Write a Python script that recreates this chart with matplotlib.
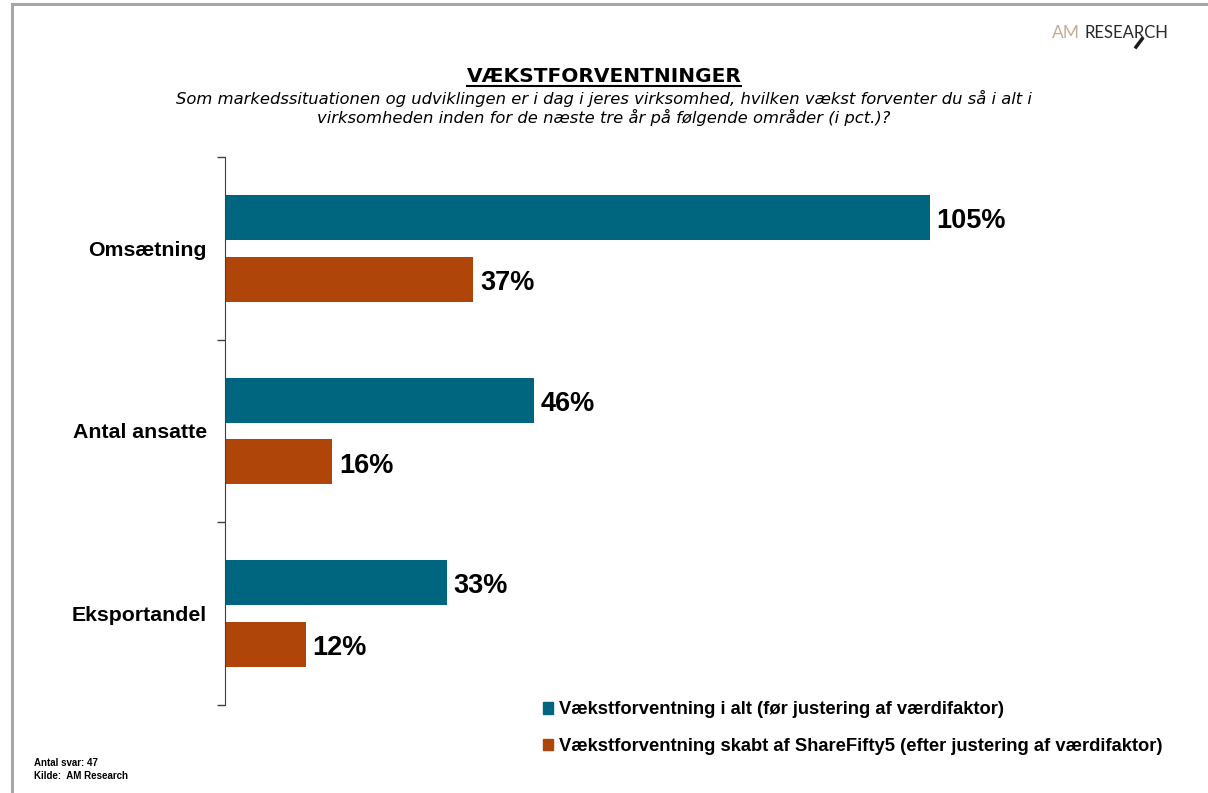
import matplotlib.pyplot as plt
from matplotlib.patches import Patch
from matplotlib.lines import Line2D

kategorier = ["Omsætning", "Antal ansatte", "Eksportandel"]
foer_justering = [105, 46, 33]
efter_justering = [37, 16, 12]
serie_navne = ["Vækstforventning i alt (før justering af værdifaktor)",
               "Vækstforventning skabt af ShareFifty5 (efter justering af værdifaktor)"]

teal = "#006680"
orange = "#AF4509"

fig = plt.figure(figsize=(12.08, 7.93), dpi=100)
W, H = 1208, 793

# graa ramme (venstre og top)
fig.add_artist(Line2D([11.5 / W, 11.5 / W], [0, 1 - 3.5 / H], color="#a6a6a6", lw=2.2))
fig.add_artist(Line2D([11.5 / W, 1], [1 - 3.5 / H, 1 - 3.5 / H], color="#a6a6a6", lw=2.2))

ax = fig.add_axes([225 / W, 1 - 705 / H, 940 / W, 548 / H])

pos = list(range(len(kategorier)))
h = 0.247
off = 0.169
ax.barh([p - off for p in pos], foer_justering, height=h, color=teal)
ax.barh([p + off for p in pos], efter_justering, height=h, color=orange)

for p, v in zip(pos, foer_justering):
    ax.text(v + 1.0, p - off + 0.02, f"{v}%", va="center", ha="left", fontsize=19.5,
            fontweight="bold", family="Liberation Sans")
for p, v in zip(pos, efter_justering):
    ax.text(v + 1.0, p + off + 0.02, f"{v}%", va="center", ha="left", fontsize=19.5,
            fontweight="bold", family="Liberation Sans")

ax.set_xlim(0, 940 / 6.714)
ax.set_ylim(2.5, -0.5)
ax.set_yticks(pos)
ax.set_yticklabels(kategorier, fontsize=15.3, fontweight="bold", family="Liberation Sans")
ax.tick_params(axis="y", which="major", length=0, pad=13)
ax.set_yticks([-0.5, 0.5, 1.5, 2.5], minor=True)
ax.tick_params(axis="y", which="minor", length=6, color="#404040", width=1)
ax.set_xticks([])
for s in ["top", "right", "bottom"]:
    ax.spines[s].set_visible(False)
ax.spines["left"].set_color("#404040")

handles = [Patch(color=teal), Patch(color=orange)]
fig.legend(handles, serie_navne, loc="upper left", bbox_to_anchor=(526 / W, 1 - 685 / H),
           frameon=False, handlelength=0.58, handleheight=0.58, handletextpad=0.3,
           labelspacing=1.05, prop={"family": "Liberation Sans", "weight": "bold", "size": 13.2})

# titel
t = fig.text(0.5, 1 - 77 / H, "VÆKSTFORVENTNINGER", ha="center", va="center",
             fontsize=14.5, fontweight="bold", family="DejaVu Sans")
fig.text(0.5, 1 - 108 / H,
         "Som markedssituationen og udviklingen er i dag i jeres virksomhed, hvilken vækst forventer du så i alt i\n"
         "virksomheden inden for de næste tre år på følgende områder (i pct.)?",
         ha="center", va="center", fontsize=11.8, style="italic", family="DejaVu Sans",
         linespacing=1.08)

fig.canvas.draw()
bb = t.get_window_extent()
fig.add_artist(Line2D([bb.x0 / W, bb.x1 / W], [(bb.y0 + 1) / H, (bb.y0 + 1) / H],
                      color="black", lw=1.5))

# logo
fig.text(1052 / W, 1 - 33 / H, "AM", ha="left", va="center", fontsize=12.5,
         family="Lato", color="#c4ad98")
fig.text(1168 / W, 1 - 33 / H, "RESEARCH", ha="right", va="center", fontsize=12,
         family="Lato", color="#2a2a2a")
fig.add_artist(Line2D([1142 / W, 1136 / W], [1 - 39 / H, 1 - 47 / H], color="#1a1a1a", lw=2.5))

# fodnote
fig.text(34 / W, 1 - 763 / H, "Antal svar: 47", ha="left", va="center", fontsize=7,
         fontweight="bold", family="Liberation Sans")
fig.text(34 / W, 1 - 776 / H, "Kilde:  AM Research", ha="left", va="center", fontsize=7,
         fontweight="bold", family="Liberation Sans")

fig.savefig("out.png", dpi=100)
